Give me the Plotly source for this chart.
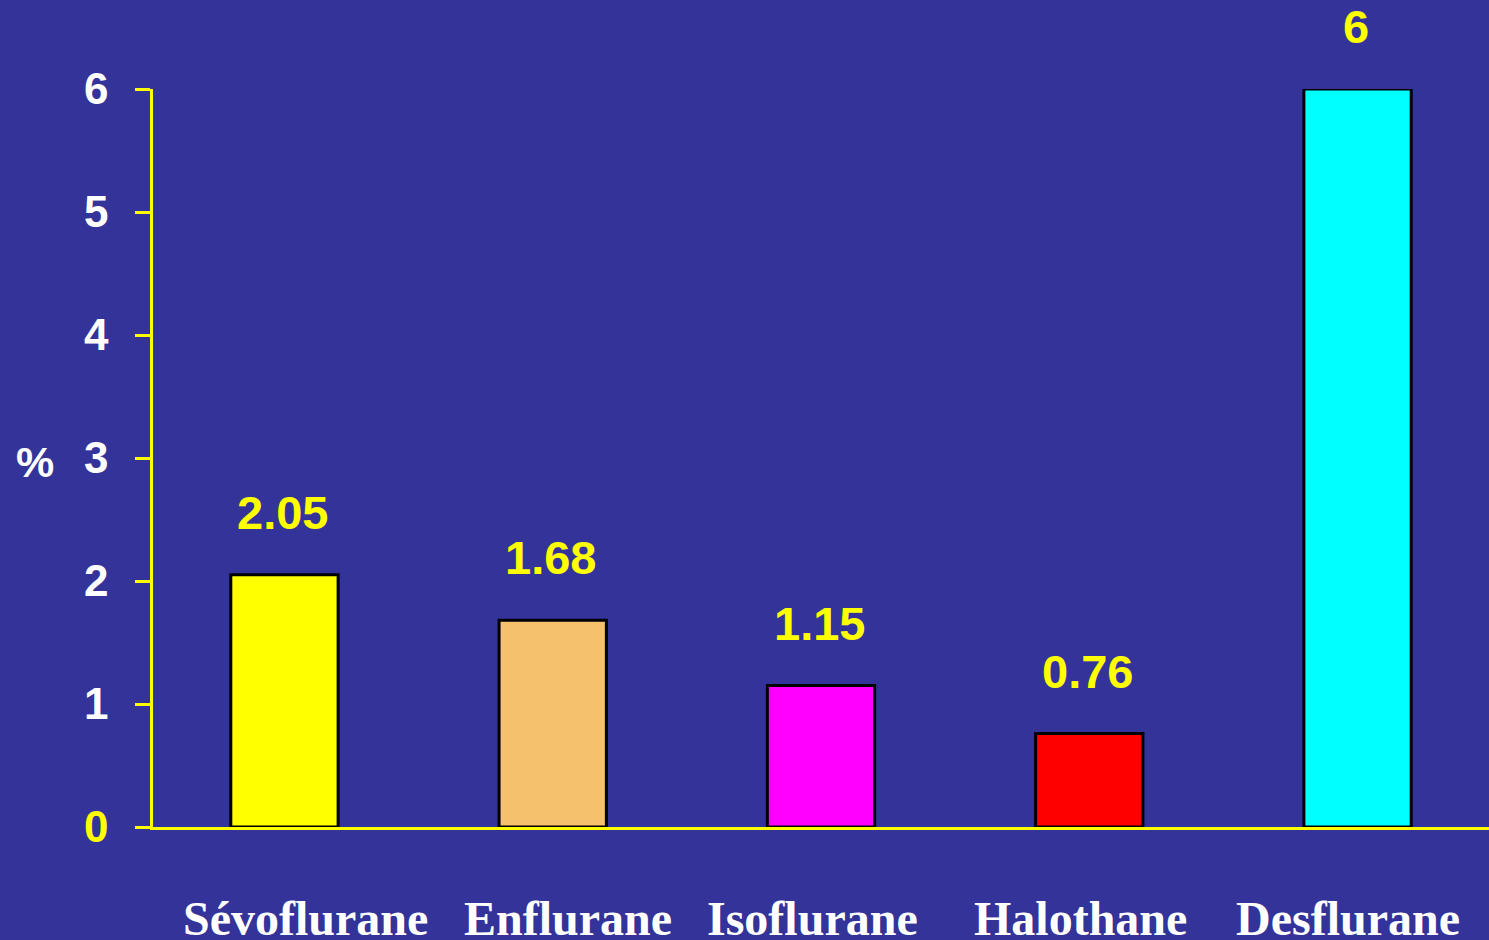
import plotly.graph_objects as go

categories = ["Sévoflurane", "Enflurane", "Isoflurane", "Halothane", "Desflurane"]
values = [2.05, 1.68, 1.15, 0.76, 6]
value_labels = ["2.05", "1.68", "1.15", "0.76", "6"]
bar_colors = ["#FFFF00", "#F5C16C", "#FF00FF", "#FF0000", "#00FFFF"]
y_ticks = [0, 1, 2, 3, 4, 5, 6]
y_tick_text = ['<span style="color:#FFFF00">0</span>', "1", "2", "3", "4", "5", "6"]
label_xshift = [21, 15, -9, -9, -10]

BG = "#333399"

fig = go.Figure()
fig.add_trace(go.Bar(
    x=categories, y=values,
    marker=dict(color=bar_colors, line=dict(color="black", width=3)),
    width=0.4,
    hoverinfo="skip",
))

for c, v, t in zip(categories, values, value_labels):
    fig.add_annotation(x=c, y=v, text=t, showarrow=False, yanchor="bottom",
                       yshift=34, xshift=-2,
                       font=dict(family="Arial, Liberation Sans", size=47,
                                 color="#FFFF00", weight="bold"))

for c, dx in zip(categories, label_xshift):
    fig.add_annotation(x=c, y=0, text=c, showarrow=False, yanchor="middle",
                       yshift=-91, xshift=dx,
                       font=dict(family="Times New Roman, Liberation Serif", size=48,
                                 color="white", weight="bold"))

fig.add_annotation(xref="paper", yref="y", x=-0.088, y=3, text="%", showarrow=False,
                   xanchor="center", yshift=-4,
                   font=dict(family="Arial, Liberation Sans", size=43, color="white", weight="bold"))

fig.update_layout(
    width=1489, height=940,
    margin=dict(l=153, r=0, t=89, b=113),
    paper_bgcolor=BG, plot_bgcolor=BG,
    showlegend=False,
    font=dict(family="Arial, Liberation Sans", color="white"),
)
fig.update_xaxes(
    range=[-0.49, 4.49], showgrid=False, zeroline=False,
    showline=True, linecolor="#FFFF00", linewidth=2.5,
    ticks="", showticklabels=False,
)
fig.update_yaxes(
    range=[0, 6], showgrid=False, zeroline=False,
    showline=True, linecolor="#FFFF00", linewidth=2.5,
    ticks="outside", ticklen=15, tickwidth=2.5, tickcolor="#FFFF00",
    tickvals=y_ticks, ticktext=y_tick_text, ticklabelstandoff=18,
    tickfont=dict(family="Arial, Liberation Sans", size=44, color="white", weight="bold"),
)

fig.write_html("out.html", config={"displayModeBar": False},
               post_script="document.body.style.margin='0px';document.body.style.overflow='hidden';")
